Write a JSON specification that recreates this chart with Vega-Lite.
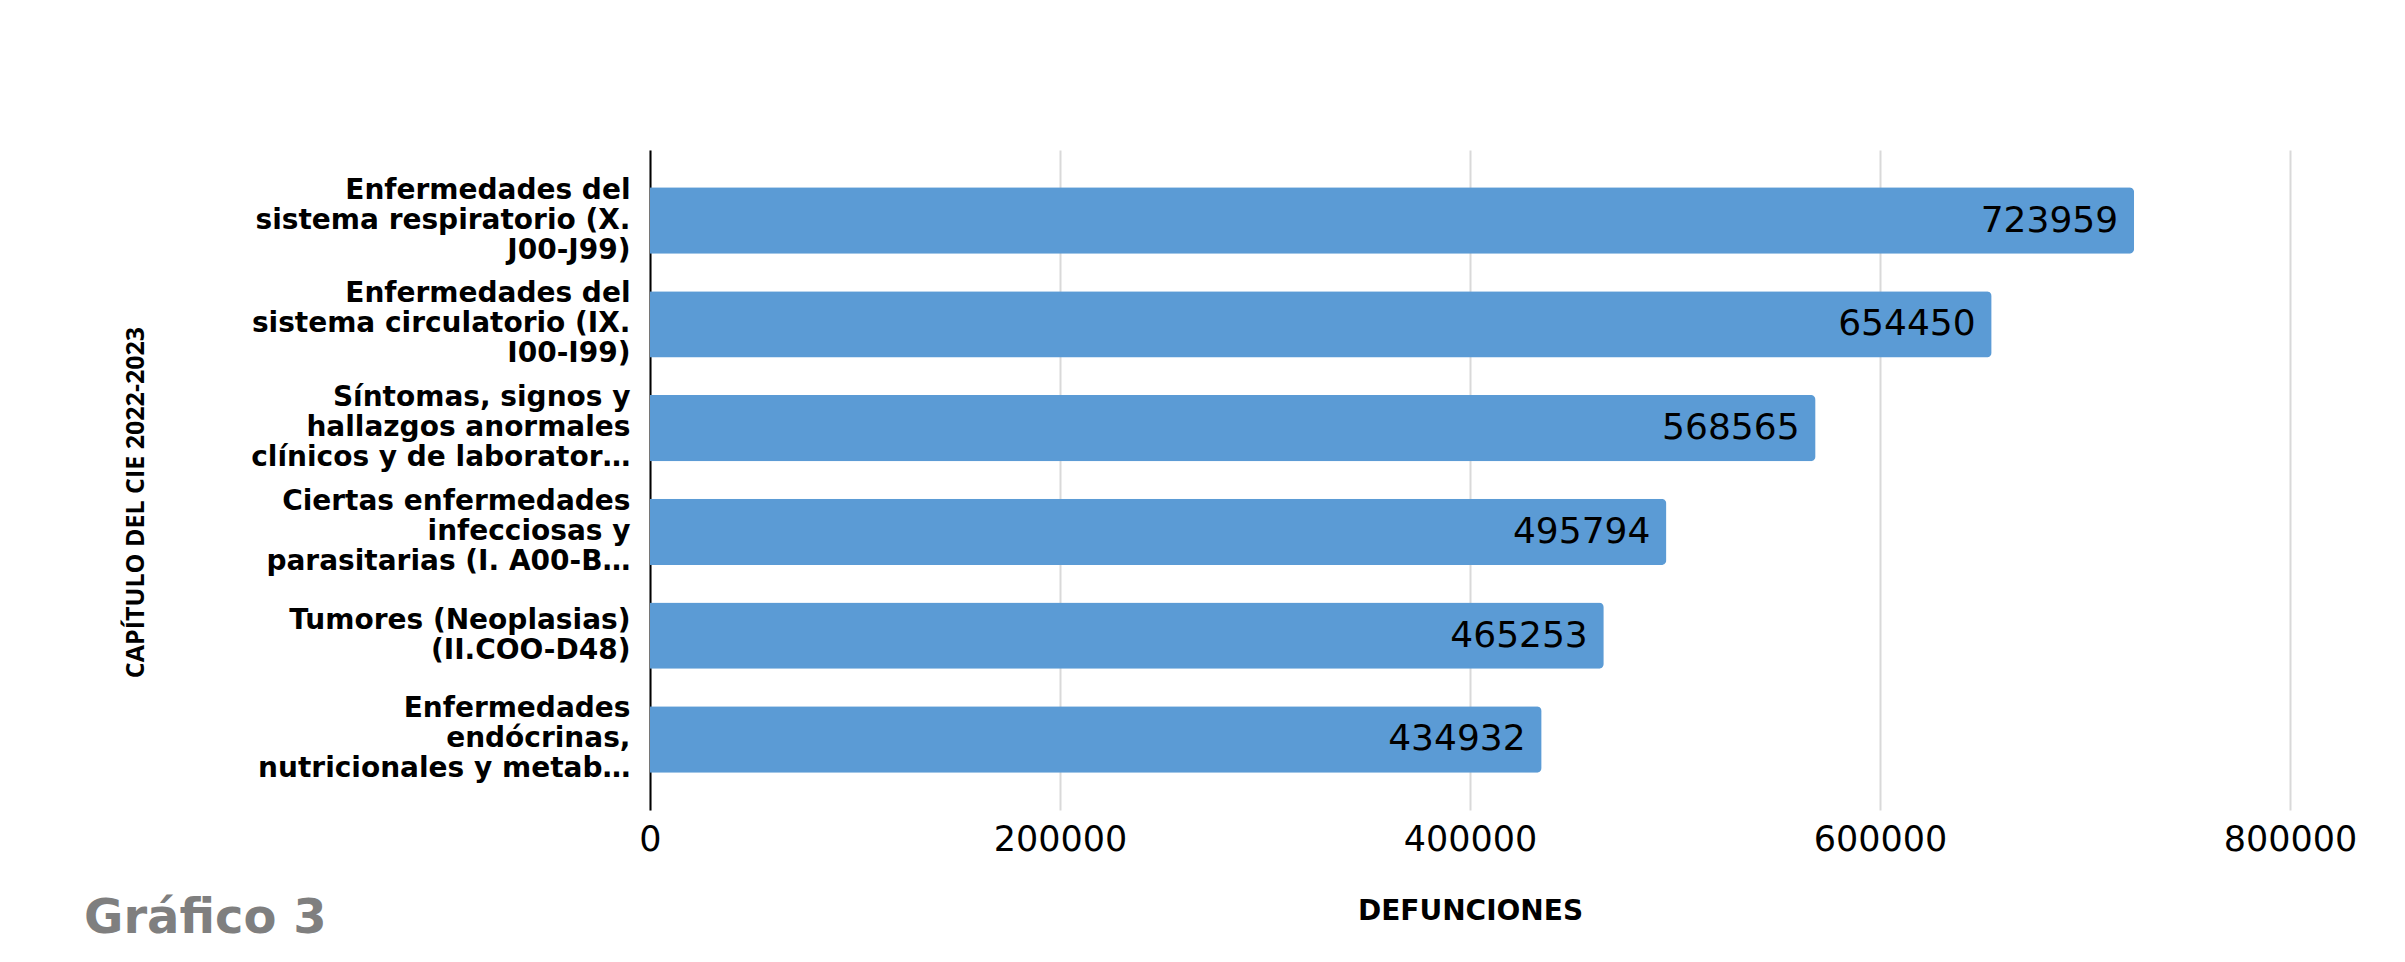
{
  "$schema": "https://vega.github.io/schema/vega-lite/v6.json",
  "width": 1640,
  "height": 660,
  "autosize": {"type": "none"},
  "padding": {"left": 650, "top": 150, "right": 115, "bottom": 152},
  "background": "white",
  "title": {
    "text": "Gráfico 3",
    "orient": "bottom",
    "anchor": "start",
    "frame": "group",
    "dx": -566,
    "dy": -34,
    "font": "DejaVu Sans",
    "fontSize": 48,
    "fontWeight": "bold",
    "color": "#7f7f7f"
  },
  "config": {
    "view": {"stroke": null},
    "font": "Open Sans"
  },
  "data": {
    "values": [
      {"capitulo": "Enfermedades del|sistema respiratorio (X.|J00-J99)", "defunciones": 723959},
      {"capitulo": "Enfermedades del|sistema circulatorio (IX.|I00-I99)", "defunciones": 654450},
      {"capitulo": "Síntomas, signos y|hallazgos anormales|clínicos y de laborator…", "defunciones": 568565},
      {"capitulo": "Ciertas enfermedades|infecciosas y|parasitarias (I. A00-B…", "defunciones": 495794},
      {"capitulo": "Tumores (Neoplasias)|(II.COO-D48)", "defunciones": 465253},
      {"capitulo": "Enfermedades|endócrinas,|nutricionales y metab…", "defunciones": 434932}
    ]
  },
  "encoding": {
    "y": {
      "field": "capitulo",
      "type": "nominal",
      "sort": null,
      "scale": {"paddingInner": 0.36, "paddingOuter": 0.36},
      "axis": {
        "title": "CAPÍTULO DEL CIE 2022-2023",
        "titleFont": "Open Sans",
        "titleFontSize": 25,
        "titleFontWeight": "bold",
        "titleColor": "#000000",
        "titleX": -515,
        "titleY": 352,
        "titleAngle": -90,
        "titleBaseline": "middle",
        "titleAlign": "center",
        "labelExpr": "split(datum.value, '|')",
        "labelFont": "DejaVu Sans",
        "labelFontSize": 28,
        "labelFontWeight": "bold",
        "labelColor": "#000000",
        "labelLineHeight": 30,
        "labelBaseline": "middle",
        "labelOffset": {"condition": {"test": "indexof(datum.value, 'Tumores') >= 0", "value": -15}, "value": -30},
        "labelPadding": 20,
        "labelLimit": 0,
        "ticks": false,
        "domain": true,
        "domainColor": "#000000",
        "domainWidth": 2,
        "grid": false
      }
    },
    "x": {
      "field": "defunciones",
      "type": "quantitative",
      "scale": {"domain": [0, 800000], "nice": false},
      "axis": {
        "title": "DEFUNCIONES",
        "titleFont": "DejaVu Sans",
        "titleFontSize": 28,
        "titleFontWeight": "bold",
        "titleColor": "#000000",
        "titleY": 101,
        "titleBaseline": "middle",
        "values": [0, 200000, 400000, 600000, 800000],
        "format": "d",
        "labelFont": "DejaVu Sans",
        "labelFontSize": 35,
        "labelColor": "#000000",
        "labelPadding": 12,
        "labelFlush": false,
        "ticks": false,
        "domain": false,
        "grid": true,
        "gridColor": "#d9d9d9",
        "gridWidth": 2
      }
    }
  },
  "layer": [
    {
      "mark": {"type": "bar", "color": "#5b9bd5", "cornerRadiusEnd": 5}
    },
    {
      "mark": {
        "type": "text",
        "align": "right",
        "baseline": "middle",
        "dx": -16,
        "font": "DejaVu Sans",
        "fontSize": 36,
        "color": "#000000"
      },
      "encoding": {
        "text": {"field": "defunciones", "type": "quantitative", "format": "d"}
      }
    }
  ]
}
